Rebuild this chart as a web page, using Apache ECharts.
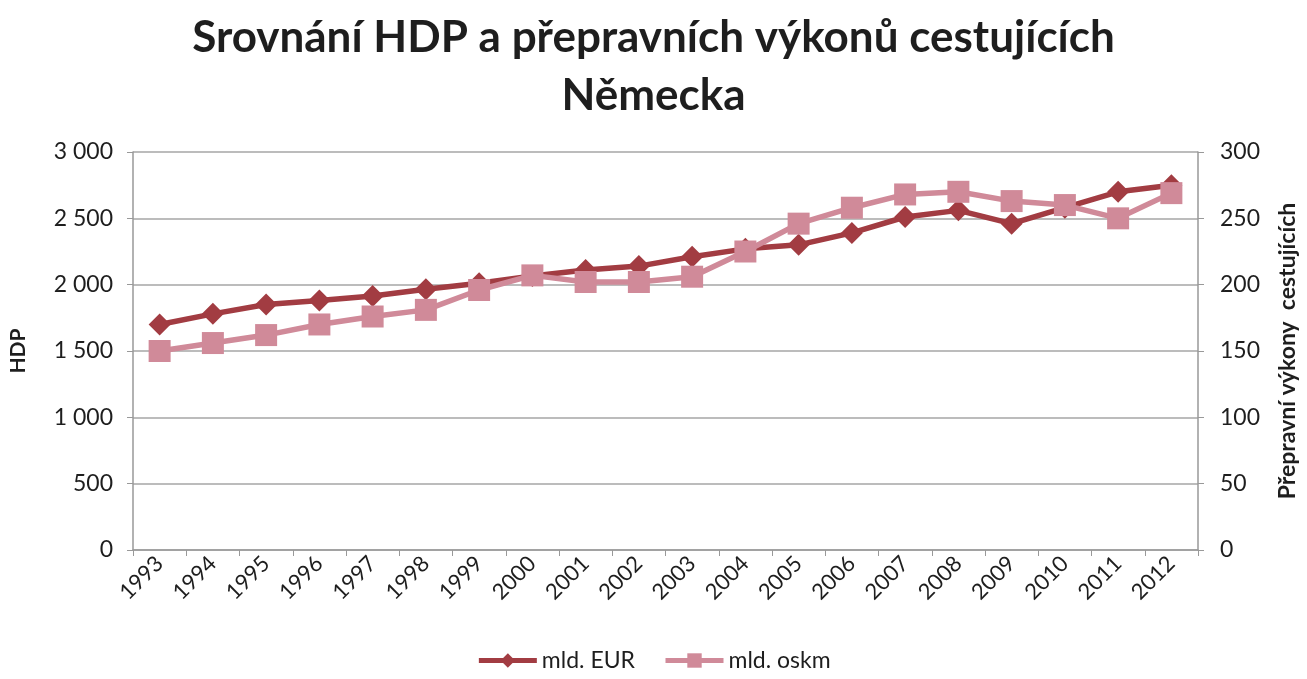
<!DOCTYPE html>
<html>
<head>
<meta charset="UTF-8">
<title>HDP a prepravni vykony Nemecka</title>
<script src="https://cdn.jsdelivr.net/npm/echarts@6/dist/echarts.min.js"></script>
<style type="text/css">
html, body { margin: 0; padding: 0; background: #fff; }
#main { width: 1307px; height: 679px; }
</style>
</head>
<body>
<div id="main"></div>
<script type="text/javascript">
// roky
var years = ['1993','1994','1995','1996','1997','1998','1999','2000','2001','2002',
             '2003','2004','2005','2006','2007','2008','2009','2010','2011','2012'];
// HDP, mld. EUR (leva osa)
var hdpEur = [1700,1780,1850,1880,1915,1965,2010,2065,2110,2140,
              2210,2270,2300,2390,2510,2560,2460,2580,2700,2750];
// prepravni vykony, mld. oskm (prava osa)
var vykonOskm = [150,156,162,170,176,181,196,207,202,202,
                 206,225,246,258,268,270,263,260,250,269];

var fontName = 'Lato';
var txtColor = '#1e1e1e';

function fmtThousands(v) {
  return String(v).replace(/\B(?=(\d{3})+(?!\d))/g, ' ');
}

var myChart = echarts.init(document.getElementById('main'));

var option = {
  animation: false,
  textStyle: { fontFamily: fontName },
  title: {
    text: 'Srovnání HDP a přepravních výkonů cestujících\nNěmecka',
    left: 'center',
    top: 4,
    textStyle: {
      fontFamily: fontName,
      fontSize: 44,
      fontWeight: 'bold',
      color: txtColor,
      lineHeight: 58
    }
  },
  legend: {
    bottom: 2,
    left: 'center',
    itemWidth: 58,
    itemHeight: 18,
    itemGap: 28,
    lineStyle: { width: 5 },
    textStyle: { fontFamily: fontName, fontSize: 23, color: txtColor },
    data: ['mld. EUR', 'mld. oskm']
  },
  grid: { left: 130, right: 107, top: 152, bottom: 129 },
  xAxis: {
    type: 'category',
    data: years,
    boundaryGap: true,
    axisLine: { lineStyle: { color: '#999', width: 1.5 } },
    axisTick: { show: true, length: 6, lineStyle: { color: '#999' } },
    axisLabel: {
      rotate: 45,
      fontSize: 22,
      color: txtColor,
      fontFamily: fontName,
      interval: 0,
      margin: 10
    }
  },
  yAxis: [{
    type: 'value',
    min: 0,
    max: 3000,
    interval: 500,
    position: 'left',
    name: 'HDP',
    nameLocation: 'middle',
    nameRotate: 90,
    nameGap: 104,
    nameTextStyle: { fontFamily: fontName, fontSize: 21, fontWeight: 'bold', color: txtColor },
    axisLine: { show: true, lineStyle: { color: '#999', width: 1.5 } },
    axisTick: { show: true, length: 6, lineStyle: { color: '#999' } },
    splitLine: { show: true, lineStyle: { color: '#a6a6a6', width: 1.5 } },
    axisLabel: {
      fontSize: 23,
      color: txtColor,
      fontFamily: fontName,
      margin: 20,
      formatter: fmtThousands
    }
  }, {
    type: 'value',
    min: 0,
    max: 300,
    interval: 50,
    position: 'right',
    name: 'Přepravní výkony  cestujících',
    nameLocation: 'middle',
    nameRotate: 90,
    nameGap: 78,
    nameTextStyle: { fontFamily: fontName, fontSize: 23, fontWeight: 'bold', color: txtColor },
    axisLine: { show: true, lineStyle: { color: '#999', width: 1.5 } },
    axisTick: { show: true, length: 6, lineStyle: { color: '#999' } },
    splitLine: { show: false },
    axisLabel: {
      fontSize: 23,
      color: txtColor,
      fontFamily: fontName,
      margin: 22
    }
  }],
  series: [{
    name: 'mld. EUR',
    type: 'line',
    yAxisIndex: 0,
    data: hdpEur,
    symbol: 'diamond',
    symbolSize: 22,
    lineStyle: { width: 5.5, color: '#a23c42' },
    itemStyle: { color: '#a23c42' },
    z: 2
  }, {
    name: 'mld. oskm',
    type: 'line',
    yAxisIndex: 1,
    data: vykonOskm,
    symbol: 'rect',
    symbolSize: 22,
    lineStyle: { width: 5.5, color: '#d08a99' },
    itemStyle: { color: '#d08a99' },
    z: 3
  }]
};

myChart.setOption(option);
</script>
</body>
</html>
